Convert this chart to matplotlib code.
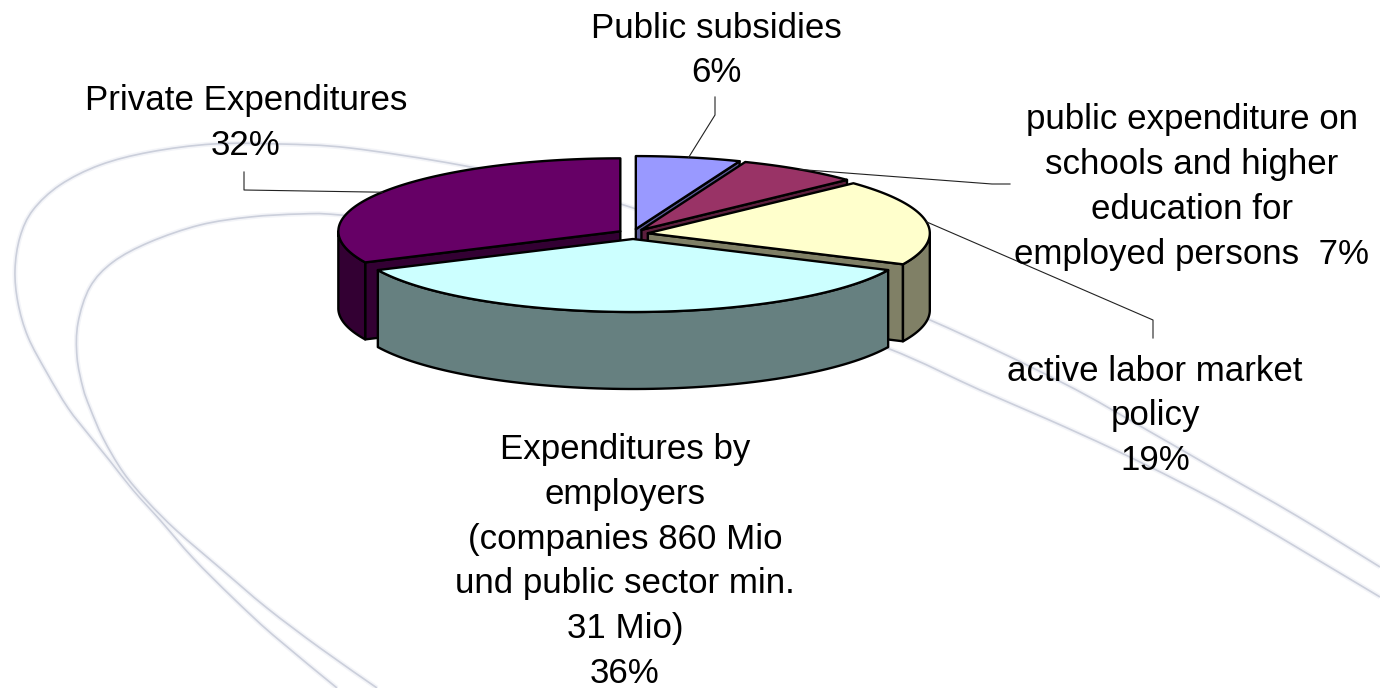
import numpy as np
import matplotlib
matplotlib.use('Agg')
import matplotlib.pyplot as plt
from matplotlib.patches import Polygon, PathPatch
from matplotlib.path import Path

plt.rcParams['font.family'] = ['Liberation Sans', 'DejaVu Sans']

# clockwise from 12 o'clock
names = ['Public subsidies', 'public expenditure', 'active labor market policy',
         'Expenditures by employers', 'Private Expenditures']
shares = [6, 7, 19, 36, 32]
top_colors = ['#9999FF', '#993366', '#FFFFCC', '#CCFFFF', '#660066']
side_colors = ['#5C5C99', '#5C1F3D', '#808066', '#668080', '#330033']

# pie geometry in figure pixels
cx, cy = 633, 234
rx, ry = 282, 73
depth = 77
explode_x, explode_y = 15, 5

# background swooshes
outer_swoosh = [(337, 688), (273, 635), (233, 598), (193, 558), (160, 520), (133, 490),
                (110, 461), (89, 435), (68, 408), (47, 373), (28, 337), (18, 303),
                (15, 270), (20, 237), (33, 210), (60, 185), (100, 165), (150, 152),
                (213, 144), (280, 144), (350, 148), (460, 165), (550, 185), (630, 207),
                (780, 260), (930, 320), (1063, 383), (1147, 430), (1213, 468),
                (1297, 516), (1380, 567)]
inner_swoosh = [(377, 688), (320, 648), (267, 608), (220, 568), (177, 531), (147, 501),
                (123, 472), (103, 438), (90, 408), (83, 388), (77, 357), (78, 323),
                (90, 287), (113, 262), (150, 242), (200, 225), (250, 217), (300, 214),
                (340, 215), (460, 228), (620, 265), (760, 305), (887, 348), (980, 390),
                (1047, 419), (1113, 449), (1180, 482), (1247, 518), (1380, 597)]


def smooth_path(pts):
    # Catmull-Rom through the points, written as cubic beziers
    pts = np.array(pts, dtype=float)
    ext = np.vstack([pts[0], pts, pts[-1]])
    verts = [pts[0]]
    codes = [Path.MOVETO]
    for i in range(1, len(ext) - 2):
        verts.append(ext[i] + (ext[i + 1] - ext[i - 1]) / 6)
        verts.append(ext[i + 1] - (ext[i + 2] - ext[i]) / 6)
        verts.append(ext[i + 1])
        codes += [Path.CURVE4] * 3
    return Path(verts, codes)


def rim(center, theta):
    t = np.radians(theta)
    return np.column_stack([center[0] + rx * np.sin(t), center[1] - ry * np.cos(t)])


fig = plt.figure(figsize=(13.8, 6.88), dpi=100)
ax = fig.add_axes([0, 0, 1, 1])
ax.set_xlim(0, 1380)
ax.set_ylim(688, 0)
ax.axis('off')

for swoosh in [outer_swoosh, inner_swoosh]:
    p = smooth_path(swoosh)
    ax.add_patch(PathPatch(p, fc='none', ec='#EEF0F6', lw=3.5, alpha=0.7, zorder=1))
    ax.add_patch(PathPatch(p, fc='none', ec='#CBCFDB', lw=1.2, zorder=1))

edges = np.cumsum([0] + shares) * 3.6
mids = (edges[:-1] + edges[1:]) / 2
centers = [(cx + explode_x * np.sin(np.radians(m)), cy - explode_y * np.cos(np.radians(m)))
           for m in mids]

# back slices first, the big front slice last
z = 3
for i in [0, 1, 2, 4, 3]:
    start, end = edges[i], edges[i + 1]
    c = centers[i]
    down = np.array([0, depth])
    edge_kw = dict(ec='black', lw=1.7, joinstyle='round')

    # cut faces that turn toward the viewer
    for theta, show in [(start, start > 180), (end, end < 180)]:
        if show:
            a = np.array(c)
            b = rim(c, theta)[0]
            ax.add_patch(Polygon([a, b, b + down, a + down], fc=side_colors[i], zorder=z, **edge_kw))
            z += 1

    # outer wall, only the front half of the rim shows
    lo, hi = max(start, 90), min(end, 270)
    if hi > lo:
        arc = rim(c, np.linspace(lo, hi, 80))
        ax.add_patch(Polygon(np.vstack([arc, (arc + down)[::-1]]), fc=side_colors[i], zorder=z, **edge_kw))
        z += 1

    arc = rim(c, np.linspace(start, end, 120))
    ax.add_patch(Polygon(np.vstack([[c], arc]), fc=top_colors[i], zorder=z, **edge_kw))
    z += 1

# leader lines start on the rim at the middle of each slice
elbows = {0: [(715, 115), (715, 97)],
          1: [(992, 184), (1010, 184)],
          2: [(1153, 320), (1153, 338)],
          4: [(244, 190), (244, 172)]}
for i, pts in elbows.items():
    start_pt = rim(centers[i], mids[i])[0]
    xs = [start_pt[0]] + [p[0] for p in pts]
    ys = [start_pt[1]] + [p[1] for p in pts]
    ax.plot(xs, ys, color='#222222', lw=0.8, zorder=z + 1)

labels = [
    (716, 50.5, f'Public subsidies\n{shares[0]}%'),
    (1192, 187, f'public expenditure on\nschools and higher\neducation for\nemployed persons  {shares[1]}%'),
    (1155, 416, f'active labor market\npolicy\n{shares[2]}%'),
    (625, 561.5, 'Expenditures by\nemployers\n(companies 860 Mio\nund public sector min.\n31 Mio)\n'
     + f'{shares[3]}%'),
    (246, 123, f'Private Expenditures\n{shares[4]}%'),
]
for x, y, s in labels:
    ax.text(x, y, s, ha='center', va='center', multialignment='center', fontsize=25.1,
            linespacing=1.45, color='black', zorder=z + 2)

fig.savefig('out.png', dpi=100, facecolor='white')
